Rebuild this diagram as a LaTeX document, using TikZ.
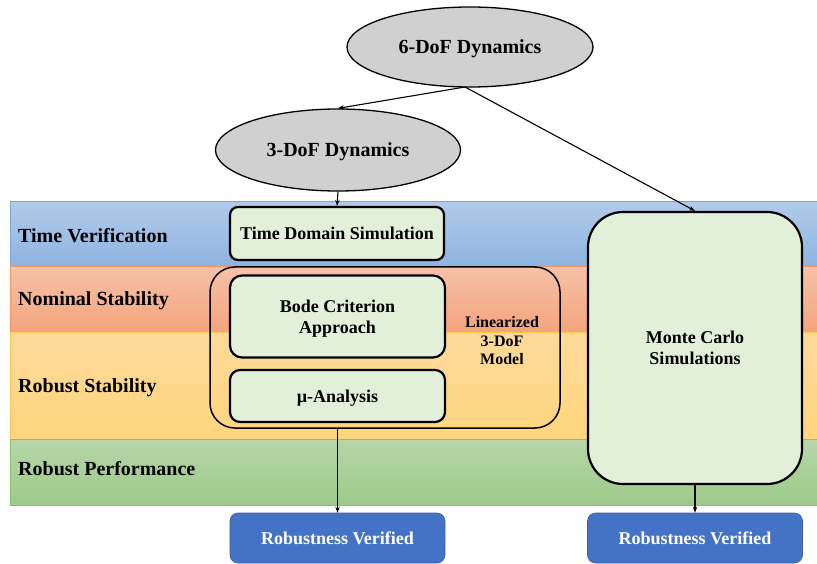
\documentclass[tikz,border=0pt]{standalone}
\usepackage{fontspec}
\setmainfont{Liberation Serif}
\usetikzlibrary{shapes.geometric,arrows.meta}
\definecolor{boxgreen}{HTML}{E2EFD9}
\definecolor{ellgray}{HTML}{D0D0D0}
\definecolor{vblue}{HTML}{4472C4}
\definecolor{b1top}{RGB}{176,203,234}
\definecolor{b1bot}{RGB}{143,179,224}
\definecolor{b1line}{RGB}{125,165,215}
\definecolor{b2top}{RGB}{247,193,168}
\definecolor{b2bot}{RGB}{244,164,124}
\definecolor{b2line}{RGB}{240,150,100}
\definecolor{b3top}{RGB}{253,218,155}
\definecolor{b3bot}{RGB}{255,213,125}
\definecolor{b3line}{RGB}{255,200,80}
\definecolor{b4top}{RGB}{182,214,168}
\definecolor{b4bot}{RGB}{156,202,136}
\definecolor{b4line}{RGB}{140,192,112}
\tikzset{
  band/.style={line width=0.8pt, minimum width=807pt, inner sep=0pt, anchor=north west},
  bandlabel/.style={anchor=west, font=\bfseries\fontsize{20}{24}\selectfont, inner sep=0pt},
  dyn/.style={ellipse, draw, line width=1.3pt, fill=ellgray, font=\bfseries\fontsize{20}{24}\selectfont, inner sep=0pt, text depth=0pt},
  gbox/.style={draw, line width=2.2pt, fill=boxgreen, rounded corners=#1, font=\bfseries\fontsize{18}{21}\selectfont, align=center, inner sep=0pt, text depth=0pt},
  vbox/.style={draw=vblue!85!black, line width=0.6pt, fill=vblue, rounded corners=8pt, text=white, font=\bfseries\fontsize{18}{21}\selectfont, minimum width=215pt, minimum height=50pt, inner sep=0pt, text depth=0pt},
  arr/.style={-{Stealth[length=6pt,width=4.5pt]}, line width=1.1pt},
}
\begin{document}
\begin{tikzpicture}[x=1pt,y=-1pt]
\useasboundingbox (0,0) rectangle (817,564);
% bands
\node[band, draw=b1line, minimum height=65pt, top color=b1top, bottom color=b1bot] (b1) at (10,201) {};
\node[band, draw=b2line, minimum height=66pt, top color=b2top, bottom color=b2bot] (b2) at (10,266) {};
\node[band, draw=b3line, minimum height=107pt, top color=b3top, bottom color=b3bot] (b3) at (10,332) {};
\node[band, draw=b4line, minimum height=66pt, top color=b4top, bottom color=b4bot] (b4) at (10,439) {};
\node[bandlabel] (l1) at (18,236) {Time Verification};
\node[bandlabel] (l2) at (18,301) {Nominal Stability};
\node[bandlabel] (l3) at (18,388) {Robust Stability};
\node[bandlabel] (l4) at (18,469) {Robust Performance};
% ellipses
\node[dyn, minimum width=246pt, minimum height=80pt] (six) at (470,47) {6-DoF Dynamics};
\node[dyn, minimum width=245pt, minimum height=82pt] (three) at (338,150) {3-DoF Dynamics};
% group box
\node[draw, line width=1.5pt, rounded corners=25pt, minimum width=350pt, minimum height=161pt, inner sep=0pt] (grp) at (385,347.5) {};
\node[font=\bfseries\fontsize{16}{18.5}\selectfont, align=center] (lin) at (502,341) {Linearized\\3-DoF\\Model};
% green boxes
\node[gbox=8pt, minimum width=214pt, minimum height=53pt] (tds) at (337,233.5) {Time Domain Simulation};
\node[gbox=12pt, minimum width=215pt, minimum height=82pt] (bode) at (337.5,316.5) {Bode Criterion\\Approach};
\node[gbox=10pt, minimum width=215pt, minimum height=52pt] (mu) at (337.5,396) {µ-Analysis};
\node[gbox=35pt, minimum width=214pt, minimum height=272pt] (mc) at (695,348) {Monte Carlo\\Simulations};
% blue boxes
\node[vbox] (rv1) at (337.5,538) {Robustness Verified};
\node[vbox] (rv2) at (695,538) {Robustness Verified};
% connectors
\coordinate (src) at (465,87);
\draw[arr] (src) -- (three.north);
\draw[arr] (src) -- (mc.north);
\draw[arr] (three.south) -- (tds.north);
\draw[arr] (grp.south -| rv1.north) -- (rv1.north);
\draw[arr] (mc.south) -- (rv2.north);
\end{tikzpicture}
\end{document}
